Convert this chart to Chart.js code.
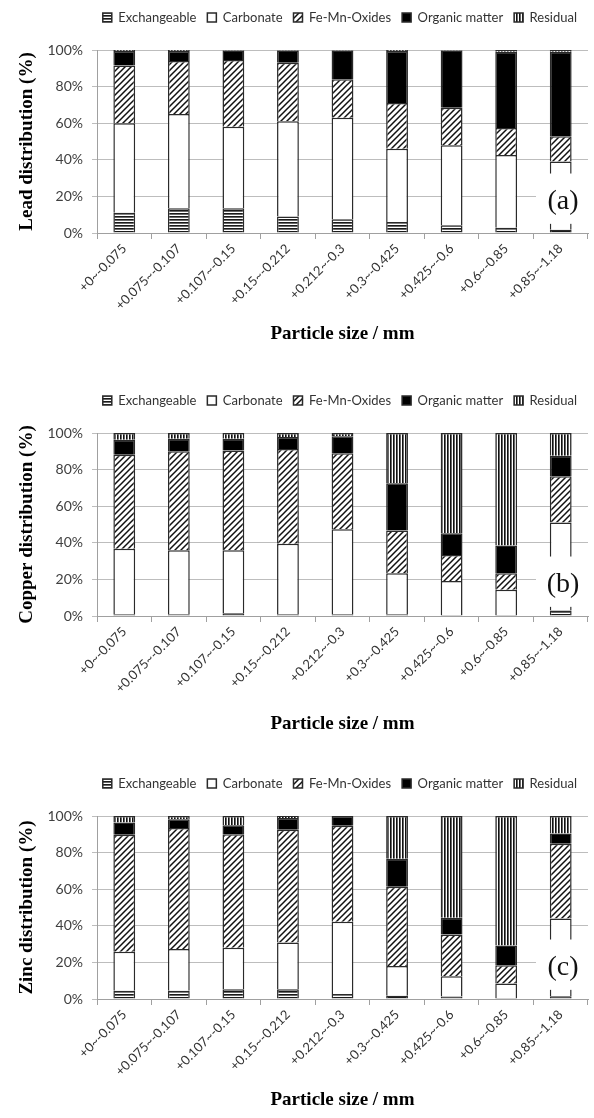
<!DOCTYPE html>
<html>
<head>
<meta charset="utf-8">
<script src="https://cdn.jsdelivr.net/npm/chart.js@4"></script>
<style>
  html, body { margin: 0; padding: 0; background: #fff; }
  body { width: 594px; height: 1118px; position: relative; overflow: hidden; }
  .panel { position: absolute; left: 0; width: 594px; height: 352px; }
</style>
</head>
<body>
<div class="panel" style="top:0"><canvas id="lead"></canvas></div>
<div class="panel" style="top:383px"><canvas id="copper"></canvas></div>
<div class="panel" style="top:766px"><canvas id="zinc"></canvas></div>
<script>
const sizeLabels = ["+0~-0.075", "+0.075~-0.107", "+0.107~-0.15", "+0.15~-0.212", "+0.212~-0.3",
	"+0.3~-0.425", "+0.425~-0.6", "+0.6~-0.85", "+0.85~-1.18"];
const fractionNames = ["Exchangeable", "Carbonate", "Fe-Mn-Oxides", "Organic matter", "Residual"];

// lead (a)
const leadExchangeable = [11, 13.5, 13.5, 9, 7.5, 6, 4.3, 2.9, 1.8];
const leadCarbonate = [49, 51.5, 44.5, 52, 55.5, 40, 43.7, 39.7, 37.3];
const leadFeMn = [31.5, 29, 36.5, 32, 21, 25, 20.5, 14.8, 13.8];
const leadOrganic = [8, 5.5, 5.2, 6.7, 15.7, 28.5, 31.2, 41.6, 46.1];
const leadResidual = [0.5, 0.5, 0.3, 0.3, 0.3, 0.5, 0.3, 1, 1];

// copper (b)
const copperExchangeable = [1, 1, 1.5, 1, 1, 1, 0.5, 0.5, 3];
const copperCarbonate = [35.8, 34.9, 34.4, 38.5, 46.4, 22.3, 18.6, 13.9, 48.1];
const copperFeMn = [51.3, 54.1, 54.6, 51.7, 41.6, 23.4, 14.2, 8.9, 25.2];
const copperOrganic = [8.2, 6.9, 6.4, 6.6, 9.2, 25.9, 11.9, 15.2, 11.3];
const copperResidual = [3.7, 3.1, 3.1, 2.2, 1.8, 27.4, 54.8, 61.5, 12.4];

// zinc (c)
const zincExchangeable = [4.5, 4.5, 5.3, 5.3, 2.7, 1.8, 1.3, 0.5, 1.5];
const zincCarbonate = [21.3, 22.8, 22.7, 25.6, 39.5, 16.2, 11.2, 8, 42.5];
const zincFeMn = [64, 66.2, 62, 61.6, 52.5, 43.3, 22.8, 10, 40.9];
const zincOrganic = [6.6, 4.7, 4.9, 6.4, 5.3, 15.4, 9.1, 10.8, 5.5];
const zincResidual = [3.6, 1.8, 5.1, 1.1, 0, 23.3, 55.6, 70.7, 9.6];

const yTicks = [0, 20, 40, 60, 80, 100];

Chart.defaults.font.family = "Lato";

function makePattern(w, h, draw) {
	const c = document.createElement("canvas");
	c.width = w;
	c.height = h;
	const g = c.getContext("2d");
	g.fillStyle = "#fff";
	g.fillRect(0, 0, w, h);
	draw(g);
	return g.createPattern(c, "repeat");
}

const hLines = makePattern(4, 3, (g) => {
	g.fillStyle = "#1a1a1a";
	g.fillRect(0, 0, 4, 1);
	g.fillStyle = "#6a6a6a";
	g.fillRect(0, 1, 4, 1);
});
const vLines = makePattern(3, 4, (g) => {
	g.fillStyle = "#111";
	g.fillRect(0, 0, 1, 4);
	g.fillStyle = "#666";
	g.fillRect(1, 0, 1, 4);
});
const diag = makePattern(6, 6, (g) => {
	g.strokeStyle = "#111";
	g.lineWidth = 1.5;
	g.beginPath();
	g.moveTo(0, 6); g.lineTo(6, 0);
	g.moveTo(-1, 1); g.lineTo(1, -1);
	g.moveTo(5, 7); g.lineTo(7, 5);
	g.stroke();
});

const fills = [hLines, "#ffffff", diag, "#000000", vLines];

// white box with the panel letter, over the last bar
const panelLabel = {
	id: "panelLabel",
	afterDatasetsDraw(chart, args, opts) {
		const { ctx, chartArea, scales } = chart;
		const y = scales.y;
		const top = y.getPixelForValue(32.5);
		const bottom = y.getPixelForValue(5);
		ctx.save();
		ctx.fillStyle = "#fff";
		ctx.fillRect(chartArea.right - 52, top, chart.width - chartArea.right + 52, bottom - top);
		ctx.fillStyle = "#111";
		ctx.font = "28px 'Liberation Serif'";
		ctx.textAlign = "center";
		ctx.textBaseline = "middle";
		ctx.fillText(opts.text, chartArea.right - 25, y.getPixelForValue(17));
		ctx.restore();
	},
};

// push the plot down below the legend
const legendGap = {
	id: "legendGap",
	beforeLayout(chart) {
		const lg = chart.legend;
		if (lg && !lg._gapPatched) {
			const fit = lg.fit.bind(lg);
			lg.fit = function () {
				fit();
				this.height = 50;
			};
			lg._gapPatched = true;
		}
	},
};

function drawPanel(id, yTitle, letter, titlePad, series) {
	const datasets = series.map((values, i) => ({
		label: fractionNames[i],
		data: values,
		backgroundColor: fills[i],
		borderColor: "#2a2a2a",
		borderWidth: 1.5,
		barPercentage: 0.4,
		categoryPercentage: 1,
	}));

	new Chart(document.getElementById(id), {
		type: "bar",
		data: { labels: sizeLabels, datasets: datasets },
		plugins: [panelLabel, legendGap],
		options: {
			responsive: true,
			maintainAspectRatio: false,
			animation: false,
			layout: { padding: { left: 0, right: 6, top: 0, bottom: 0 } },
			plugins: {
				tooltip: { enabled: false },
				panelLabel: { text: letter },
				legend: {
					position: "top",
					align: "end",
					labels: {
						boxWidth: 9,
						boxHeight: 9,
						padding: 11,
						color: "#333",
						font: { size: 13 },
					},
				},
			},
			scales: {
				x: {
					stacked: true,
					afterFit: (scale) => { scale.height = 119; },
					grid: { drawOnChartArea: false, drawTicks: true, tickLength: 6, color: "#a0a0a0" },
					border: { color: "#a0a0a0" },
					ticks: {
						minRotation: 45,
						maxRotation: 45,
						autoSkip: false,
						padding: 2,
						color: "#333",
						font: { size: 13 },
					},
					title: {
						display: true,
						text: "Particle size / mm",
						color: "#000",
						padding: { top: 0, bottom: titlePad },
						font: { family: "'Liberation Serif'", size: 19, weight: "bold" },
					},
				},
				y: {
					stacked: true,
					min: 0,
					max: 100,
					afterFit: (scale) => { scale.width = 97; },
					afterBuildTicks: (scale) => { scale.ticks = yTicks.map((v) => ({ value: v })); },
					grid: { color: "#bdbdbd", tickLength: 5 },
					border: { color: "#a0a0a0" },
					ticks: {
						padding: 9,
						color: "#404040",
						font: { size: 14 },
						callback: (v) => v + "%",
					},
					title: {
						display: true,
						text: yTitle,
						color: "#000",
						padding: { top: 16, bottom: 0 },
						font: { family: "'Liberation Serif'", size: 19, weight: "bold" },
					},
				},
			},
		},
	});
}

drawPanel("lead", "Lead distribution (%)", "(a)", 7,
	[leadExchangeable, leadCarbonate, leadFeMn, leadOrganic, leadResidual]);
drawPanel("copper", "Copper distribution (%)", "(b)", 0,
	[copperExchangeable, copperCarbonate, copperFeMn, copperOrganic, copperResidual]);
drawPanel("zinc", "Zinc distribution (%)", "(c)", 7,
	[zincExchangeable, zincCarbonate, zincFeMn, zincOrganic, zincResidual]);
</script>
</body>
</html>
